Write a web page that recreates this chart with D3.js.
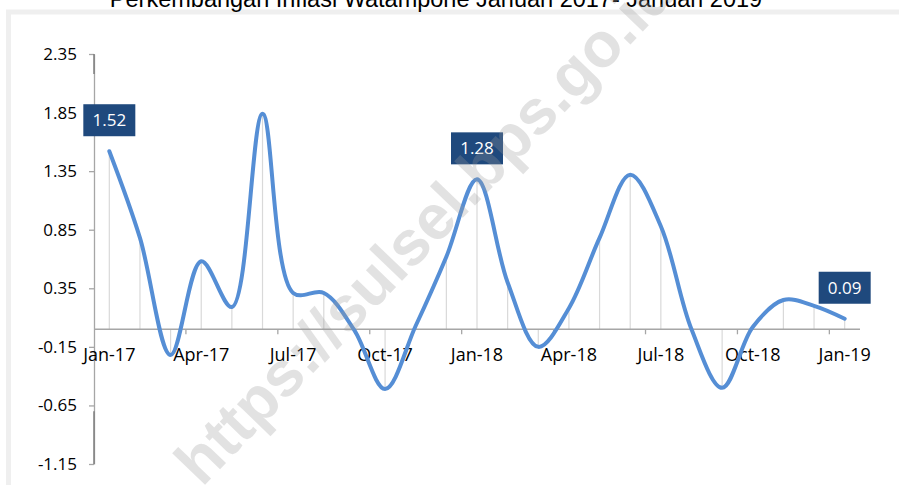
<!DOCTYPE html>
<html>
<head>
<meta charset="utf-8">
<script src="https://cdn.jsdelivr.net/npm/d3@7"></script>
<style>
  body { margin: 0; background: #fff; }
  svg { display: block; }
</style>
</head>
<body>
<svg id="chart" width="899" height="485"></svg>
<script>
var months = ["Jan-17","Feb-17","Mar-17","Apr-17","May-17","Jun-17","Jul-17","Aug-17","Sep-17","Oct-17","Nov-17","Dec-17",
              "Jan-18","Feb-18","Mar-18","Apr-18","May-18","Jun-18","Jul-18","Aug-18","Sep-18","Oct-18","Nov-18","Dec-18","Jan-19"]
var inflasi = [1.52, 0.78, -0.22, 0.58, 0.19, 1.84, 0.31, 0.31, -0.01, -0.51, 0.03, 0.62,
               1.28, 0.40, -0.15, 0.18, 0.78, 1.32, 0.88, 0.00, -0.50, 0.02, 0.25, 0.20, 0.09]
var yTicks = [-1.15, -0.65, -0.15, 0.35, 0.85, 1.35, 1.85, 2.35]
var xLabelMonths = ["Jan-17","Apr-17","Jul-17","Oct-17","Jan-18","Apr-18","Jul-18","Oct-18","Jan-19"]
var labelled = ["Jan-17","Jan-18","Jan-19"]

var palette = {
  line: "#558ed5",
  box: "#1f497d",
  axis: "#a6a6a6",
  axisDark: "#7f7f7f",
  drop: "#d9d9d9",
  frame: "#efefef",
  text: "#000"
}

// hyphen instead of unicode minus, like the original
var fmt = function(v){ return d3.format(".2f")(v).replace("\u2212", "-") }

var svg = d3.select("#chart")

// chart frame (only top / left edges show)
svg.append("rect")
   .attr("x", 8.5).attr("y", 12)
   .attr("width", 1000).attr("height", 1000)
   .attr("fill", "none")
   .attr("stroke", palette.frame)
   .attr("stroke-width", 5)

// title, partly cut off at the top
svg.append("text")
   .attr("x", 436).attr("y", 7)
   .attr("text-anchor", "middle")
   .attr("font-family", "Liberation Sans, Arial")
   .attr("font-size", 23.5)
   .attr("fill", "#000")
   .text("Perkembangan Inflasi Watampone Januari 2017- Januari 2019")

var x = d3.scaleBand().domain(months).range([94, 860])
var y = d3.scaleLinear().domain([-1.15, 2.35]).range([464, 54])
var cx = function(m){ return x(m) + x.bandwidth() / 2 }

// y axis
var yAxis = svg.append("g")
   .attr("transform", "translate(94,0)")
   .call(d3.axisLeft(y).tickValues(yTicks).tickFormat(fmt).tickSize(5).tickSizeOuter(0))
yAxis.select(".domain").attr("stroke", palette.axis).attr("stroke-width", 1.3)
yAxis.selectAll(".tick line").attr("stroke", palette.axis).attr("stroke-width", 1.3)
yAxis.selectAll(".tick text")
   .attr("x", -17)
   .attr("font-family", "Open Sans")
   .attr("font-size", 17)
   .attr("fill", palette.text)
// darker parts of the axis outside the plot area
svg.selectAll(".ydark")
   .data([[2.35, 2.18], [-0.7, -1.15]])
   .enter().append("line")
   .attr("x1", 94).attr("x2", 94)
   .attr("y1", function(d){ return y(d[0]) })
   .attr("y2", function(d){ return y(d[1]) })
   .attr("stroke", palette.axisDark)
   .attr("stroke-width", 1.5)

// drop lines
svg.append("g").selectAll("line")
   .data(months)
   .enter().append("line")
   .attr("x1", cx).attr("x2", cx)
   .attr("y1", y(0))
   .attr("y2", function(d, i){ return y(inflasi[i]) })
   .attr("stroke", palette.drop)
   .attr("stroke-width", 1.2)

// x axis at zero
var xg = svg.append("g")
xg.append("line")
   .attr("x1", 94).attr("x2", 860)
   .attr("y1", y(0)).attr("y2", y(0))
   .attr("stroke", palette.axis)
   .attr("stroke-width", 1.5)
xg.selectAll(".xtick")
   .data(months.filter(function(d, i){ return i > 0 && i % 3 == 0 }))
   .enter().append("line")
   .attr("x1", function(d){ return x(d) }).attr("x2", function(d){ return x(d) })
   .attr("y1", y(0)).attr("y2", y(0) + 5)
   .attr("stroke", palette.axis)
   .attr("stroke-width", 1.3)
xg.selectAll(".xlab")
   .data(xLabelMonths)
   .enter().append("text")
   .attr("x", cx)
   .attr("y", 361)
   .attr("text-anchor", "middle")
   .attr("font-family", "Open Sans")
   .attr("font-size", 18)
   .attr("fill", palette.text)
   .text(function(d){ return d })

// smoothed line
var line = d3.line()
   .x(function(d){ return cx(d) })
   .y(function(d, i){ return y(inflasi[i]) })
   .curve(d3.curveCatmullRom.alpha(0.5))
svg.append("path")
   .datum(months)
   .attr("d", line)
   .attr("fill", "none")
   .attr("stroke", palette.line)
   .attr("stroke-width", 4)
   .attr("stroke-linecap", "round")
   .attr("stroke-linejoin", "round")

// data labels
var lab = svg.append("g").selectAll("g")
   .data(labelled)
   .enter().append("g")
   .attr("transform", function(d){ return "translate(" + cx(d) + "," + (y(inflasi[months.indexOf(d)]) - 31) + ")" })
lab.append("rect")
   .attr("x", -26).attr("y", -16)
   .attr("width", 52).attr("height", 32)
   .attr("fill", palette.box)
lab.append("text")
   .attr("y", 6)
   .attr("text-anchor", "middle")
   .attr("font-family", "Open Sans")
   .attr("font-size", 17)
   .attr("fill", "#fff")
   .text(function(d){ return fmt(inflasi[months.indexOf(d)]) })

// watermark
svg.append("text")
   .attr("transform", "translate(202,488) rotate(-46)")
   .attr("font-family", "Liberation Sans, Arial")
   .attr("font-weight", "bold")
   .attr("font-size", 63)
   .attr("fill", "#9a9a9a")
   .attr("opacity", 0.28)
   .text("https://sulsel.bps.go.id")
</script>
</body>
</html>
